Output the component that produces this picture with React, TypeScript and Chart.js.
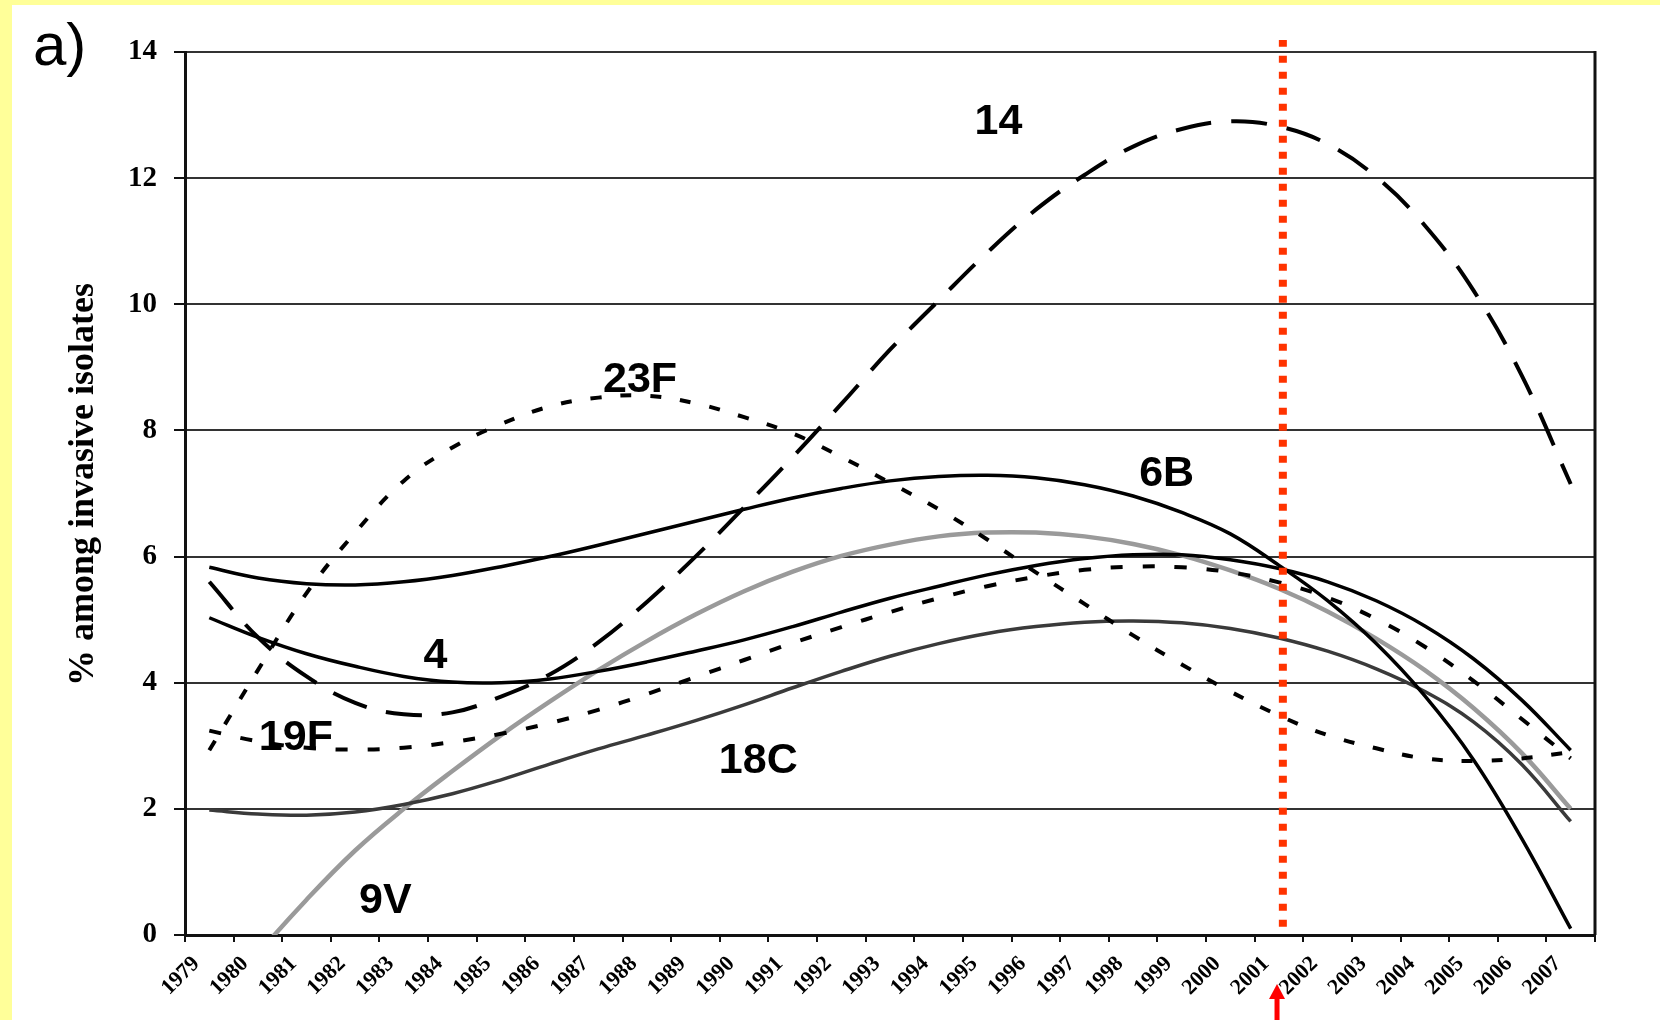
import React, { useEffect, useRef } from "react";
import { Chart, registerables } from "chart.js";

Chart.register(...registerables);

// Category axis (years)
const YEARS = [
  "1979", "1980", "1981", "1982", "1983", "1984", "1985", "1986", "1987", "1988",
  "1989", "1990", "1991", "1992", "1993", "1994", "1995", "1996", "1997", "1998",
  "1999", "2000", "2001", "2002", "2003", "2004", "2005", "2006", "2007",
];

// Serotype trend curves (% among invasive isolates)
const S14 = [5.6, 4.72, 4.1, 3.68, 3.5, 3.53, 3.78, 4.13, 4.64, 5.28, 6.0, 6.78, 7.58, 8.42, 9.28, 10.06, 10.82, 11.5, 12.05, 12.5, 12.78, 12.9, 12.82, 12.54, 12.02, 11.25, 10.22, 8.86, 7.15];
const S23F = [2.93, 4.2, 5.42, 6.38, 7.2, 7.73, 8.1, 8.38, 8.52, 8.55, 8.43, 8.21, 7.95, 7.58, 7.17, 6.75, 6.27, 5.75, 5.25, 4.75, 4.29, 3.86, 3.48, 3.17, 2.96, 2.8, 2.76, 2.8, 2.9];
const S6B = [5.83, 5.66, 5.57, 5.55, 5.6, 5.7, 5.84, 6.0, 6.18, 6.37, 6.56, 6.75, 6.93, 7.08, 7.2, 7.27, 7.29, 7.25, 7.14, 6.96, 6.7, 6.36, 5.86, 5.3, 4.62, 3.79, 2.78, 1.52, 0.1];
const S4 = [5.03, 4.72, 4.46, 4.26, 4.1, 4.01, 4.0, 4.06, 4.18, 4.33, 4.5, 4.68, 4.89, 5.12, 5.34, 5.53, 5.71, 5.86, 5.97, 6.03, 6.03, 5.95, 5.81, 5.6, 5.3, 4.9, 4.38, 3.72, 2.93];
const S19F = [3.24, 3.07, 2.97, 2.94, 2.97, 3.06, 3.19, 3.36, 3.57, 3.82, 4.09, 4.36, 4.63, 4.88, 5.12, 5.34, 5.53, 5.68, 5.79, 5.84, 5.83, 5.75, 5.59, 5.35, 5.01, 4.57, 4.03, 3.42, 2.8];
const S18C = [1.98, 1.92, 1.9, 1.95, 2.07, 2.24, 2.46, 2.71, 2.95, 3.17, 3.4, 3.65, 3.92, 4.18, 4.42, 4.62, 4.78, 4.89, 4.96, 4.98, 4.95, 4.86, 4.71, 4.5, 4.22, 3.86, 3.38, 2.7, 1.8];
const S9V = [-1.25, -0.3, 0.56, 1.34, 2.0, 2.6, 3.17, 3.7, 4.2, 4.66, 5.08, 5.45, 5.76, 6.01, 6.19, 6.32, 6.38, 6.38, 6.32, 6.2, 6.02, 5.78, 5.49, 5.13, 4.7, 4.2, 3.6, 2.88, 2.0];

// Vaccine introduction marker (position on the year-index axis)
const RED_LINE_X = 22.08;
const RED_LINE_Y = [0.13, 14.19];
const ARROW_X = 21.96;

// Y axis
const Y_MIN = 0;
const Y_MAX = 14;
const Y_STEP = 2;
const Y_TITLE = "% among invasive isolates";
const PANEL_LABEL = "a)";

// Curve labels (year index, value)
const CURVE_LABEL_TEXT = ["14", "23F", "6B", "4", "19F", "18C", "9V"];
const CURVE_LABEL_X = [16.23, 8.86, 19.69, 4.65, 1.78, 11.29, 3.62];
const CURVE_LABEL_Y = [12.89, 8.8, 7.31, 4.42, 3.12, 2.76, 0.54];

export default function App() {
  const ref = useRef<HTMLCanvasElement>(null);

  useEffect(() => {
    const canvas = ref.current;
    if (!canvas) return;

    const bgPlugin = {
      id: "bg",
      beforeDraw(chart: any) {
        const { ctx, width, height } = chart;
        ctx.save();
        ctx.fillStyle = "#FFFF99";
        ctx.fillRect(0, 0, width, height);
        ctx.fillStyle = "#FFFFFF";
        ctx.fillRect(12, 5, width - 12, height - 5);
        ctx.restore();
      },
    };

    const overlayPlugin = {
      id: "overlay",
      afterDatasetsDraw(chart: any) {
        const { ctx, scales } = chart;
        const xs = scales.x2;
        const ys = scales.y;
        ctx.save();
        ctx.fillStyle = "#000";
        ctx.font = 'bold 43px "Liberation Sans", Arial, sans-serif';
        ctx.textAlign = "center";
        ctx.textBaseline = "middle";
        CURVE_LABEL_TEXT.forEach((t, i) => {
          ctx.fillText(t, xs.getPixelForValue(CURVE_LABEL_X[i]), ys.getPixelForValue(CURVE_LABEL_Y[i]));
        });
        ctx.restore();
      },
      afterDraw(chart: any) {
        const { ctx, chartArea, scales } = chart;
        ctx.save();
        // right frame border
        ctx.strokeStyle = "#111";
        ctx.lineWidth = 3;
        ctx.beginPath();
        ctx.moveTo(chartArea.right, chartArea.top - 1);
        ctx.lineTo(chartArea.right, chartArea.bottom);
        ctx.stroke();

        // panel label
        ctx.fillStyle = "#000";
        ctx.font = '60px "Liberation Sans", Arial, sans-serif';
        ctx.textAlign = "left";
        ctx.textBaseline = "alphabetic";
        ctx.fillText(PANEL_LABEL, 33, 65);

        // y axis title
        ctx.save();
        ctx.translate(93, (chartArea.top + chartArea.bottom) / 2 - 9);
        ctx.rotate(-Math.PI / 2);
        ctx.font = 'bold 36px "Liberation Serif", "Times New Roman", serif';
        ctx.textAlign = "center";
        ctx.textBaseline = "alphabetic";
        ctx.fillText(Y_TITLE, 0, 0);
        ctx.restore();

        // red arrow under the axis
        const ax = scales.x2.getPixelForValue(ARROW_X);
        const tipY = chartArea.bottom + 49;
        ctx.fillStyle = "#FF0000";
        ctx.fillRect(ax - 2.5, tipY + 14, 5, 40);
        ctx.beginPath();
        ctx.moveTo(ax, tipY);
        ctx.lineTo(ax + 8, tipY + 15);
        ctx.lineTo(ax - 8, tipY + 15);
        ctx.closePath();
        ctx.fill();
        ctx.restore();
      },
    };

    const curve = (data: number[], color: string, width: number, dash: number[]) => ({
      data,
      borderColor: color,
      backgroundColor: color,
      borderWidth: width,
      borderDash: dash,
      borderCapStyle: "butt",
      pointRadius: 0,
      tension: 0.4,
      fill: false,
      xAxisID: "x",
      yAxisID: "y",
    });

    const chart = new Chart(canvas, {
      type: "line",
      data: {
        labels: YEARS,
        datasets: [
          {
            data: [
              { x: RED_LINE_X, y: RED_LINE_Y[0] },
              { x: RED_LINE_X, y: RED_LINE_Y[1] },
            ],
            borderColor: "#FF3300",
            borderWidth: 8,
            borderDash: [7, 9],
            borderCapStyle: "butt",
            pointRadius: 0,
            xAxisID: "x2",
            yAxisID: "y",
            clip: false,
          } as any,
          curve(S14, "#000000", 4, [36, 20]),
          curve(S6B, "#000000", 3.5, []),
          curve(S4, "#000000", 3.5, []),
          curve(S23F, "#000000", 4, [11, 19]),
          curve(S19F, "#000000", 4, [12, 20]),
          curve(S18C, "#3a3a3a", 3.5, []),
          curve(S9V, "#9a9a9a", 4.5, []),
        ] as any,
      },
      options: {
        responsive: false,
        devicePixelRatio: 1,
        animation: false,
        events: [],
        layout: { padding: { left: 0, top: 52, right: 65, bottom: 0 } },
        plugins: { legend: { display: false }, tooltip: { enabled: false } },
        scales: {
          x: {
            type: "category",
            offset: true,
            grid: {
              offset: true,
              drawOnChartArea: false,
              drawTicks: true,
              tickLength: 7,
              color: "#111",
              lineWidth: 2,
            },
            border: { display: true, color: "#111", width: 3 },
            ticks: {
              autoSkip: false,
              maxRotation: 45,
              minRotation: 45,
              labelOffset: -13,
              padding: 9,
              color: "#000",
              font: { family: '"Liberation Serif", "Times New Roman", serif', size: 22, weight: "bold" },
            },
            afterFit(s: any) {
              s.height = 85;
            },
          },
          x2: {
            type: "linear",
            display: false,
            min: -0.5,
            max: 28.5,
          },
          y: {
            min: Y_MIN,
            max: Y_MAX,
            ticks: {
              stepSize: Y_STEP,
              padding: 17,
              color: "#000",
              font: { family: '"Liberation Serif", "Times New Roman", serif', size: 29, weight: "bold" },
            },
            grid: {
              color: "#333",
              lineWidth: 2,
              tickLength: 11,
              tickColor: "#111",
            },
            border: { display: true, color: "#111", width: 3 },
            afterFit(s: any) {
              s.width = 185;
            },
          },
        } as any,
      },
      plugins: [bgPlugin, overlayPlugin],
    } as any);

    return () => chart.destroy();
  }, []);

  return (
    <div style={{ position: "fixed", left: 0, top: 0, width: 1660, height: 1020, overflow: "hidden" }}>
      <canvas ref={ref} width={1660} height={1020} style={{ display: "block", width: 1660, height: 1020 }} />
    </div>
  );
}
